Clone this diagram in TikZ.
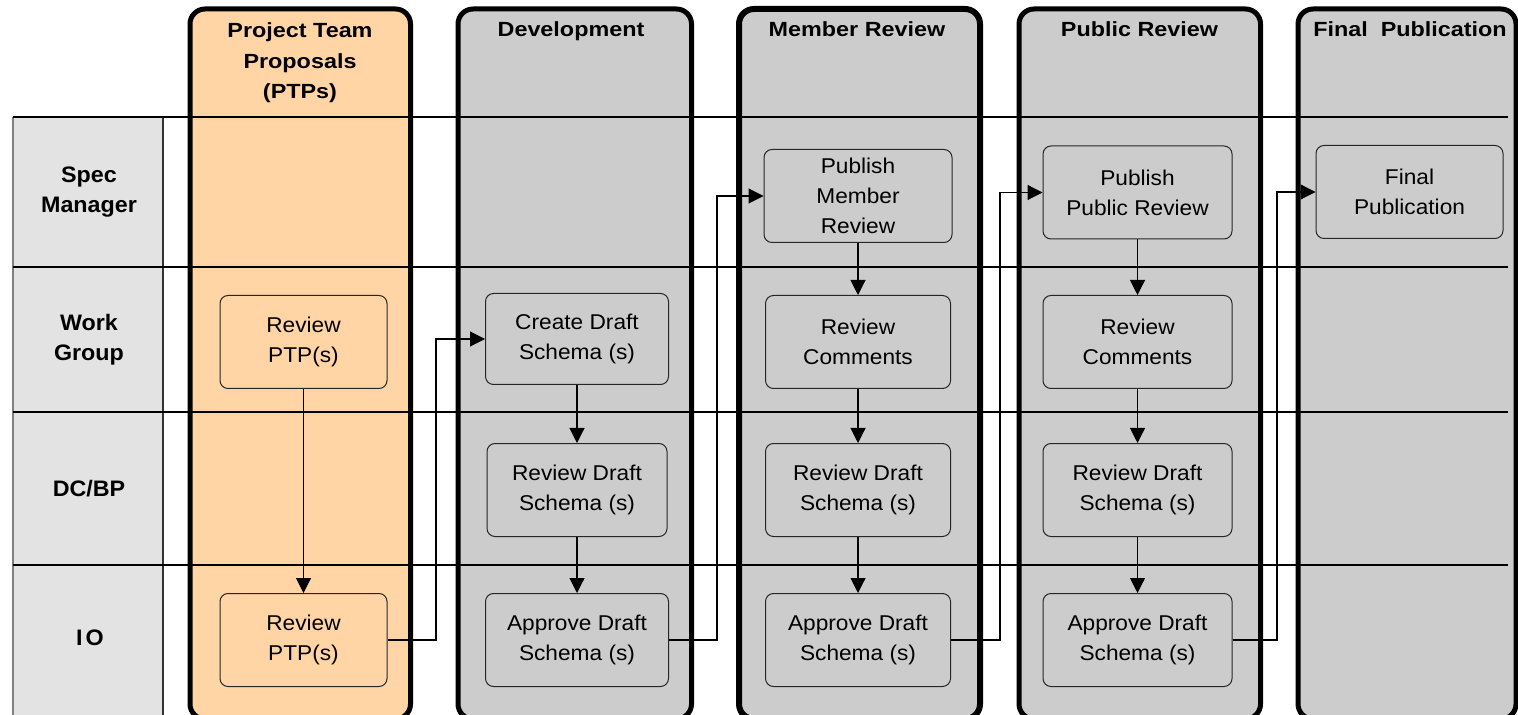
\documentclass[tikz,border=0pt]{standalone}
\usepackage{fontspec}
\setmainfont{Liberation Sans}
\newfontfamily\hdrfont[FakeStretch=1.14]{Liberation Sans}
\newfontfamily\lblfont[FakeStretch=1.04]{Liberation Sans}
\newfontfamily\boxfont[FakeStretch=1.06]{Liberation Sans}
\usetikzlibrary{arrows.meta}
\definecolor{peach}{HTML}{FFD5A6}
\definecolor{colgray}{HTML}{CCCCCC}
\definecolor{lblgray}{HTML}{E3E3E3}
\begin{document}
\begin{tikzpicture}[x=0.5pt,y=-0.5pt,
  lane/.style={draw=black,line width=2.5pt,rounded corners=7.5pt},
  hdr/.style={font=\hdrfont\bfseries\fontsize{10.25}{15.25}\selectfont,align=center,inner sep=0pt},
  lbl/.style={font=\lblfont\bfseries\fontsize{11.2}{15}\selectfont,align=center,inner sep=0pt},
  stepbox/.style={draw=black!85,line width=0.5pt,rounded corners=4pt,minimum width=92pt,minimum height=46.5pt,align=center,inner sep=0pt,font=\boxfont\fontsize{10.7}{15}\selectfont},
  arr/.style={line width=0.55pt,-{Triangle[length=7.5pt,width=7.5pt]}},
  rowline/.style={line width=0.6pt,draw=black}
]
\useasboundingbox (0,0) rectangle (1518,715);
\clip (0,0) rectangle (1518,715);

% row label column
\fill[lblgray] (14,117) rectangle (163,720);
\draw[line width=0.6pt,draw=gray] (13,117) -- (13,720);
\draw[line width=0.6pt,draw=black!80] (163,117) -- (163,720);

% lanes
\draw[lane,fill=peach] (190,9) rectangle (410.5,719);
\draw[lane,fill=colgray] (458,9) rectangle (691.5,719);
\draw[lane,fill=colgray,line width=3pt] (739,9) rectangle (980,719);
\draw[lane,fill=colgray] (1019,9) rectangle (1260.5,719);
\draw[lane,fill=colgray] (1298,9) rectangle (1516,719);

% row lines
\draw[rowline] (13,117) -- (1508,117);
\draw[rowline] (13,267) -- (1508,267);
\draw[rowline] (13,412) -- (1508,412);
\draw[rowline] (13,565) -- (1508,565);

% headers
\node[hdr,anchor=north] (hptp) at (300,22.3) {Project Team\\Proposals\\(PTPs)};
\node[hdr,anchor=base] (hdev) at (571,37) {Development};
\node[hdr,anchor=base] (hmem) at (857,37) {Member Review};
\node[hdr,anchor=base] (hpub) at (1139.5,37) {Public Review};
\node[hdr,anchor=base] (hfin) at (1410,37) {Final~ Publication};

% row labels
\node[lbl] (rsm) at (89,192) {Spec\\Manager};
\node[lbl] (rwg) at (89,340) {Work\\Group};
\node[lbl] (rdc) at (89,489) {DC/BP};
\node[lbl] (rio) at (90,638) {I\kern1.5pt O};

% PTP column
\node[stepbox,minimum width=83.5pt] (p1) at (303.5,342) {Review\\PTP(s)};
\node[stepbox,minimum width=83.5pt] (p2) at (303.5,640) {Review\\PTP(s)};
% Development column
\node[stepbox,minimum width=91.5pt,minimum height=45.5pt] (d1) at (577,339) {Create Draft\\Schema (s)};
\node[stepbox,minimum width=90pt] (d2) at (577,490) {Review Draft\\Schema (s)};
\node[stepbox,minimum width=91.5pt] (d3) at (577,640) {Approve Draft\\Schema (s)};
% Member review column
\node[stepbox,minimum width=94pt] (m1) at (858,196) {Publish\\Member\\Review};
\node[stepbox,minimum width=92.5pt] (m2) at (858,342) {Review\\Comments};
\node[stepbox,minimum width=92.5pt] (m3) at (858,490) {Review Draft\\Schema (s)};
\node[stepbox,minimum width=92.5pt] (m4) at (858,640) {Approve Draft\\Schema (s)};
% Public review column
\node[stepbox,minimum width=94.5pt] (u1) at (1137.5,192.5) {Publish\\Public Review};
\node[stepbox,minimum width=94.5pt] (u2) at (1137.5,342) {Review\\Comments};
\node[stepbox,minimum width=94.5pt] (u3) at (1137.5,490) {Review Draft\\Schema (s)};
\node[stepbox,minimum width=94.5pt] (u4) at (1137.5,640) {Approve Draft\\Schema (s)};
% Final publication
\node[stepbox,minimum width=93.5pt] (f1) at (1409.5,192) {Final\\Publication};

% vertical arrows
\draw[arr] (p1) -- (p2);
\draw[arr] (d1) -- (d2);
\draw[arr] (d2) -- (d3);
\draw[arr] (m1) -- (m2);
\draw[arr] (m2) -- (m3);
\draw[arr] (m3) -- (m4);
\draw[arr] (u1) -- (u2);
\draw[arr] (u2) -- (u3);
\draw[arr] (u3) -- (u4);

% stage-to-stage connectors
\coordinate (c1) at (436,0);
\coordinate (c2) at (717,0);
\coordinate (c3) at (1000,0);
\coordinate (c4) at (1277,0);
\draw[arr] (p2.east) -- (p2.east -| c1) |- (d1.west);
\draw[arr] (d3.east) -- (d3.east -| c2) |- (m1.west);
\draw[arr] (m4.east) -- (m4.east -| c3) |- (u1.west);
\draw[arr] (u4.east) -- (u4.east -| c4) |- (f1.west);
\end{tikzpicture}
\end{document}
